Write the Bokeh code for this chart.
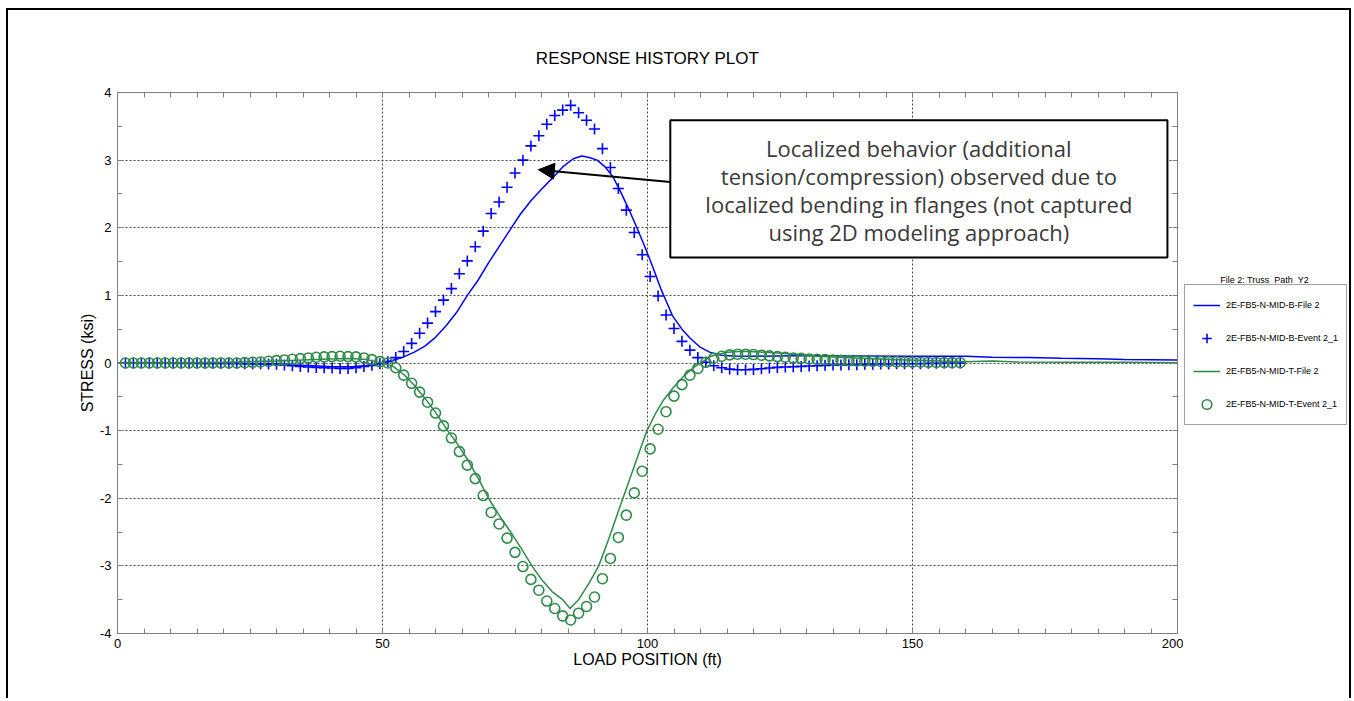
from bokeh.plotting import figure
from bokeh.layouts import row
from bokeh.models import (LinearAxis, SingleIntervalTicker, FixedTicker, Legend, LegendItem, Label,
                          Arrow, NormalHead, BoxAnnotation, Range1d, ColumnDataSource,
                          PrintfTickFormatter)
from bokeh.embed import file_html
from bokeh.resources import INLINE

# ---------------- data ----------------
event_x = [1.5, 3.0, 4.5, 6.0, 7.5, 9.0, 10.5, 12.0, 13.5, 15.0, 16.5, 18.0, 19.5, 21.0, 22.5,
           24.0, 25.5, 27.0, 28.5, 30.0, 31.5, 33.0, 34.5, 36.0, 37.5, 39.0, 40.5, 42.0, 43.5,
           45.0, 46.5, 48.0, 49.5, 51.0, 52.5, 54.0, 55.5, 57.0, 58.5, 60.0, 61.5, 63.0, 64.5,
           66.0, 67.5, 69.0, 70.5, 72.0, 73.5, 75.0, 76.5, 78.0, 79.5, 81.0, 82.5, 84.0, 85.5,
           87.0, 88.5, 90.0, 91.5, 93.0, 94.5, 96.0, 97.5, 99.0, 100.5, 102.0, 103.5, 105.0,
           106.5, 108.0, 109.5, 111.0, 112.5, 114.0, 115.5, 117.0, 118.5, 120.0, 121.5, 123.0,
           124.5, 126.0, 127.5, 129.0, 130.5, 132.0, 133.5, 135.0, 136.5, 138.0, 139.5, 141.0,
           142.5, 144.0, 145.5, 147.0, 148.5, 150.0, 151.5, 153.0, 154.5, 156.0, 157.5, 159.0]

b_event = [0.0, 0.0, 0.0, 0.0, 0.0, 0.0, 0.0, 0.0, 0.0, 0.0, -0.005, -0.005, -0.005, -0.005, -0.005,
           -0.01, -0.01, -0.01,
           -0.015, -0.02, -0.03, -0.04, -0.05, -0.06, -0.065, -0.07, -0.075, -0.08, -0.08, -0.07,
           -0.05, -0.035, -0.01,
           0.02, 0.08, 0.17, 0.29, 0.44, 0.59, 0.76, 0.93, 1.10, 1.32, 1.51, 1.72, 1.95, 2.21,
           2.38, 2.60, 2.81, 3.00, 3.21, 3.36, 3.53, 3.66, 3.74, 3.81, 3.70, 3.59, 3.46, 3.17,
           2.89, 2.58, 2.26, 1.93, 1.60, 1.28, 0.99, 0.71, 0.51, 0.32,
           0.19, 0.08, 0.01, -0.04, -0.07, -0.09, -0.10, -0.10, -0.095, -0.085, -0.075, -0.065,
           -0.06, -0.055, -0.05, -0.045, -0.04, -0.035, -0.03, -0.03, -0.025, -0.025, -0.02,
           -0.02, -0.015, -0.015, -0.01, -0.01, -0.01, -0.01, -0.005, -0.005, 0.0, 0.0, 0.0]

t_event = [0.0, 0.0, 0.0, 0.0, 0.0, 0.0, 0.0, 0.0, 0.0, 0.0, 0.0, 0.0, 0.0, 0.0, 0.0,
           0.005, 0.01, 0.015,
           0.025, 0.035, 0.045, 0.055, 0.065, 0.075, 0.085, 0.09, 0.095, 0.1, 0.095, 0.09,
           0.075, 0.05, 0.02,
           0.0, -0.07, -0.18, -0.30, -0.43, -0.58, -0.74, -0.93, -1.11, -1.31, -1.51, -1.71,
           -1.96, -2.21, -2.38, -2.59, -2.80, -3.01, -3.20, -3.36, -3.52, -3.63, -3.74, -3.80,
           -3.70, -3.60, -3.46, -3.19, -2.89, -2.58, -2.25, -1.92, -1.60, -1.27, -0.98, -0.72,
           -0.49, -0.32,
           -0.18, -0.08, 0.01, 0.07, 0.10, 0.12, 0.13, 0.13, 0.125, 0.115, 0.105, 0.095, 0.085,
           0.075, 0.068, 0.06, 0.055, 0.05, 0.045, 0.04, 0.035, 0.032, 0.028, 0.025, 0.022,
           0.02, 0.018, 0.015, 0.013, 0.011, 0.01, 0.008, 0.006, 0.005, 0.004]

b_line_x = [0, 10, 20, 25, 30, 35, 40, 44, 47, 50, 52, 54, 56, 58, 60, 62, 64, 66, 68, 70,
            72, 74, 76, 78, 80, 82, 84, 86, 87.6, 89, 90.5, 92, 93.5, 95, 96.5, 98, 99.5, 101,
            102.5, 103.5, 104.7, 106.5, 108, 110, 112, 114, 116, 120, 130, 140, 150, 160, 165,
            172, 178, 185, 190, 200]
b_line_y = [0.0, 0.0, -0.005, -0.01, -0.02, -0.035, -0.05, -0.055, -0.04, 0.0, 0.04, 0.09,
            0.16, 0.25, 0.38, 0.55, 0.75, 1.0, 1.22, 1.48, 1.72, 1.96, 2.2, 2.4, 2.57, 2.73,
            2.9, 3.02, 3.06, 3.04, 3.0, 2.9, 2.75, 2.52, 2.27, 2.0, 1.72, 1.42, 1.1, 0.92, 0.7,
            0.5, 0.37, 0.23, 0.15, 0.115, 0.105, 0.1, 0.11, 0.105, 0.1, 0.1, 0.086, 0.08, 0.07,
            0.062, 0.05, 0.045]

t_line_x = [0, 10, 20, 25, 30, 35, 40, 44, 47, 50, 52, 54, 56, 58, 60, 62.3, 64, 66, 68, 70,
            72, 74, 76, 78.2, 80, 82, 84, 85.4, 86, 87, 89, 90.8, 92.7, 94.6, 96.5, 98.2, 99.9,
            101.5, 103, 105, 107, 109, 110, 112, 115, 118, 122, 126, 132, 139, 146, 155, 160,
            165, 170, 180, 190, 200]
t_line_y = [0.0, 0.0, 0.01, 0.02, 0.03, 0.045, 0.06, 0.065, 0.05, 0.0, -0.05, -0.17, -0.33,
            -0.52, -0.73, -1.0, -1.18, -1.42, -1.7, -2.0, -2.25, -2.48, -2.72, -3.0, -3.2,
            -3.38, -3.5, -3.63, -3.58, -3.5, -3.25, -3.0, -2.6, -2.17, -1.75, -1.37, -1.0,
            -0.75, -0.55, -0.35, -0.18, -0.05, 0.0, 0.1, 0.16, 0.175, 0.16, 0.14, 0.1, 0.075,
            0.05, 0.03, 0.02, 0.03, 0.015, 0.012, 0.01, 0.005]

series_names = ["2E-FB5-N-MID-B-File 2", "2E-FB5-N-MID-B-Event 2_1",
                "2E-FB5-N-MID-T-File 2", "2E-FB5-N-MID-T-Event 2_1"]
legend_title = "File 2: Truss_Path_Y2"
note_lines = ["Localized behavior (additional",
              "tension/compression) observed due to",
              "localized bending in flanges (not captured",
              "using 2D modeling approach)"]
x_ticks_minor = list(range(0, 201, 5))
y_ticks_minor = [v / 2 for v in range(-8, 9)]

BLUE = "#0000FF"
GREEN = "#2E8B47"
FONT = "Liberation Sans"
H = 688

# ---------------- main figure ----------------
p = figure(width=1175, height=H, x_range=Range1d(0, 200), y_range=Range1d(-4, 4),
           output_backend="svg", toolbar_location=None,
           min_border_left=109, min_border_right=6, min_border_top=82, min_border_bottom=H - 623,
           background_fill_color="white", border_fill_color="white")

p.title.text = "RESPONSE HISTORY PLOT"
p.title.align = "center"
p.title.text_font = FONT
p.title.text_font_size = "17px"
p.title.text_font_style = "normal"
p.title.text_color = "#000000"
p.title.standoff = 50

xt = SingleIntervalTicker(interval=50, num_minor_ticks=10)
yt = SingleIntervalTicker(interval=1, num_minor_ticks=2)

def style_axis(ax):
    ax.axis_line_color = "#7f7f7f"
    ax.major_tick_line_color = "#7f7f7f"
    ax.minor_tick_line_color = "#7f7f7f"
    ax.major_tick_in = 5
    ax.major_tick_out = 0
    ax.minor_tick_in = 5
    ax.minor_tick_out = 0
    ax.major_label_text_font = FONT
    ax.major_label_text_font_size = "13px"
    ax.major_label_text_color = "#000000"
    ax.axis_label_text_font = FONT
    ax.axis_label_text_font_size = "16px"
    ax.axis_label_text_font_style = "normal"
    ax.axis_label_text_color = "#000000"

p.xaxis.ticker = xt
p.yaxis.ticker = yt
p.yaxis.formatter = PrintfTickFormatter(format="%d")
p.xaxis.axis_label = "LOAD POSITION (ft)"
p.yaxis.axis_label = "STRESS (ksi)"
style_axis(p.xaxis[0])
style_axis(p.yaxis[0])
p.xaxis.major_label_standoff = 5
p.xaxis.axis_label_standoff = 0
p.yaxis.major_label_standoff = 6
p.yaxis.axis_label_standoff = 1

top_ax = LinearAxis(ticker=FixedTicker(ticks=[], minor_ticks=x_ticks_minor))
right_ax = LinearAxis(ticker=FixedTicker(ticks=[], minor_ticks=y_ticks_minor))
style_axis(top_ax)
style_axis(right_ax)
p.add_layout(top_ax, "above")
p.add_layout(right_ax, "right")

p.outline_line_color = "#7f7f7f"
for g in (p.xgrid[0], p.ygrid[0]):
    g.grid_line_color = "#444444"
    g.grid_line_dash = "2 2"
    g.grid_line_width = 1

src_bl = ColumnDataSource(dict(x=b_line_x, y=b_line_y))
src_tl = ColumnDataSource(dict(x=t_line_x, y=t_line_y))
src_ev = ColumnDataSource(dict(x=event_x, b=b_event, t=t_event))

line_kw = dict(line_width=1.5)
cross_kw = dict(marker="cross", size=11, line_width=1.6)
circ_kw = dict(marker="circle", size=10, fill_color=None, line_width=1.6)

p.line("x", "y", source=src_bl, line_color=BLUE, **line_kw)
p.scatter("x", "b", source=src_ev, line_color=BLUE, **cross_kw)
p.line("x", "y", source=src_tl, line_color=GREEN, **line_kw)
p.scatter("x", "t", source=src_ev, line_color=GREEN, **circ_kw)

# annotation box, text and arrow
p.add_layout(BoxAnnotation(left=104.3, right=198.1, bottom=1.56, top=3.59,
                           fill_color="white", fill_alpha=1.0,
                           line_color="black", line_alpha=1.0, line_width=2))
note_y = [3.173, 2.759, 2.345, 1.930]
for txt, yy in zip(note_lines, note_y):
    p.add_layout(Label(x=151.2, y=yy, text=txt, text_align="center", text_baseline="middle",
                       text_font="Open Sans", text_font_size="22px", text_color="#3a3a3a"))
p.add_layout(Arrow(end=NormalHead(size=16, fill_color="black", line_color="black"),
                   x_start=104.3, y_start=2.675, x_end=79.4, y_end=2.858,
                   line_color="black", line_width=2))

# ---------------- legend panel (frame aligned with main frame: 541 px tall) ----------------
LW = 166
FH = 541
q = figure(width=LW, height=H, x_range=Range1d(0, LW), y_range=Range1d(0, FH),
           output_backend="svg", toolbar_location=None,
           min_border_left=0, min_border_right=0, min_border_top=0, min_border_bottom=0,
           x_axis_type=None, y_axis_type=None, outline_line_color=None,
           background_fill_color="white", border_fill_color="white")
q.title.visible = False
q.xgrid.visible = False
q.ygrid.visible = False
off = dict(x=[-1000], y=[-1000])   # legend-swatch renderers, kept outside the view
d1 = q.line(source=ColumnDataSource(off), line_color=BLUE, **line_kw)
d2 = q.scatter(source=ColumnDataSource(off), line_color=BLUE, **cross_kw)
d3 = q.line(source=ColumnDataSource(off), line_color=GREEN, **line_kw)
d4 = q.scatter(source=ColumnDataSource(off), line_color=GREEN, **circ_kw)
legend = Legend(items=[LegendItem(label=series_names[0], renderers=[d1]),
                       LegendItem(label=series_names[1], renderers=[d2]),
                       LegendItem(label=series_names[2], renderers=[d3]),
                       LegendItem(label=series_names[3], renderers=[d4])],
                location=(1, 208), orientation="vertical",
                border_line_color="#444444", border_line_width=1,
                background_fill_color="white", background_fill_alpha=1,
                label_text_font=FONT, label_text_font_size="9px", label_text_color="#000000",
                glyph_width=27, glyph_height=24, label_height=24, label_width=112, spacing=9,
                padding=8, margin=0, label_standoff=6)
q.add_layout(legend)
q.add_layout(Label(x=81, y=354, text=legend_title, text_align="center",
                   text_baseline="middle", text_font=FONT, text_font_size="9px",
                   text_color="#000000"))

layout = row(p, q, spacing=0,
             styles={"margin-left": "6px", "margin-top": "8px",
                     "border-top": "2px solid black", "border-left": "2px solid black",
                     "border-right": "2px solid black"})

open("out.html", "w").write(file_html(layout, INLINE))
